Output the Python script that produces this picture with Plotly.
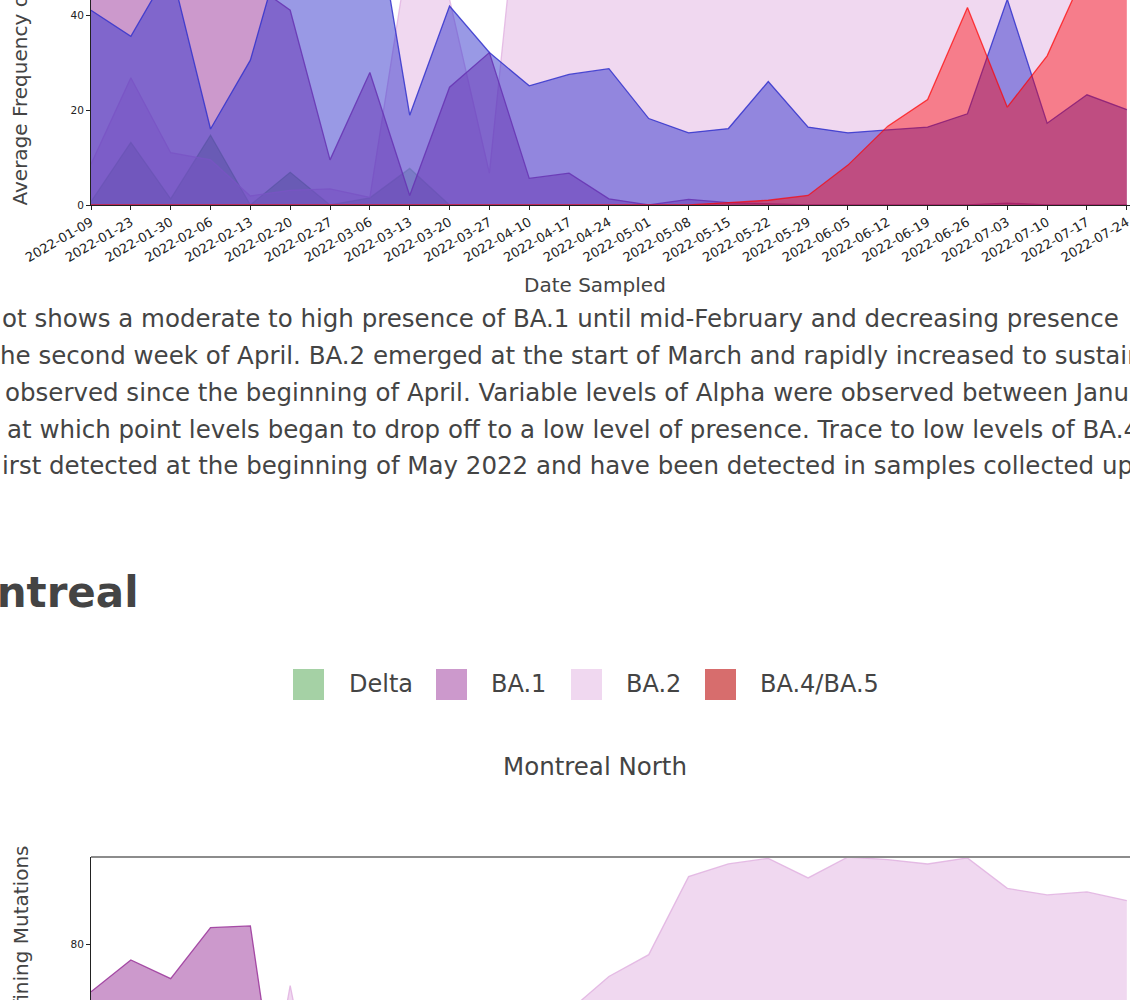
import plotly.graph_objects as go

# ---------------- data ----------------
dates = ["2022-01-09", "2022-01-23", "2022-01-30", "2022-02-06", "2022-02-13",
         "2022-02-20", "2022-02-27", "2022-03-06", "2022-03-13", "2022-03-20",
         "2022-03-27", "2022-04-10", "2022-04-17", "2022-04-24", "2022-05-01",
         "2022-05-08", "2022-05-15", "2022-05-22", "2022-05-29", "2022-06-05",
         "2022-06-12", "2022-06-19", "2022-06-26", "2022-07-03", "2022-07-10",
         "2022-07-17", "2022-07-24"]

# upper chart (previous site, partly visible)
up_ba2 = [8.6, 26.8, 11.0, 9.5, 1.9, 3.1, 3.4, 1.6, 55.0, 43.3, 6.7, 88.0, 90.0,
          92.0, 93.0, 94.0, 93.0, 92.0, 90.0, 88.0, 85.0, 80.0, 70.0, 65.0, 62.0,
          60.0, 58.0]
up_ba1 = [62.0, 68.0, 66.0, 70.0, 47.0, 41.0, 9.5, 27.9, 2.0, 24.8, 32.1, 5.6, 6.7,
          1.3, 0.0, 1.2, 0.5, 0.2, 0.0, 0.0, 0.0, 0.0, 0.0, 0.4, 0.0, 0.0, 0.0]
up_delta = [0.7, 13.2, 1.3, 14.7, 0.0, 6.9, 0.0, 1.5, 7.7, 0.0, 0.0, 0.0, 0.0, 0.0,
            0.0, 0.0, 0.0, 0.0, 0.0, 0.0, 0.0, 0.0, 0.0, 0.0, 0.0, 0.0, 0.0]
up_alpha = [41.0, 35.5, 50.0, 16.0, 30.5, 60.0, 65.0, 69.0, 18.9, 41.9, 32.1, 25.1,
            27.5, 28.7, 18.2, 15.2, 16.1, 26.0, 16.4, 15.2, 15.8, 16.4, 19.2, 43.3,
            17.2, 23.2, 20.1]
up_ba45 = [0.0, 0.0, 0.0, 0.0, 0.0, 0.0, 0.0, 0.0, 0.0, 0.0, 0.0, 0.0, 0.0, 0.0,
           0.0, 0.0, 0.5, 1.0, 2.0, 8.4, 16.6, 22.2, 41.6, 20.6, 31.4, 50.0, 55.0]

# Montreal North
mn_delta = [9.0, 7.0, 5.0, 3.0, 2.0, 1.0, 1.0, 0.5, 0.0, 0.0, 0.0, 0.0, 0.0, 0.0,
            0.0, 0.0, 0.0, 0.0, 0.0, 0.0, 0.0, 0.0, 0.0, 0.0, 0.0, 0.0, 0.0]
mn_ba1 = [69.1, 76.4, 72.1, 83.8, 84.2, 22.0, 50.0, 45.0, 35.0, 30.0, 25.0, 15.0,
          12.0, 9.0, 6.0, 3.0, 2.0, 1.0, 1.0, 0.5, 0.5, 0.0, 0.0, 0.0, 0.0, 0.0, 0.0]
mn_ba2 = [0.0, 0.0, 0.0, 0.0, 20.0, 70.5, 25.0, 30.0, 40.0, 45.0, 50.0, 58.0, 64.7,
          72.6, 77.6, 95.5, 98.4, 99.7, 95.2, 100.0, 99.4, 98.4, 99.8, 92.8, 91.3,
          92.0, 90.0]
mn_ba45 = [0.0, 0.0, 0.0, 0.0, 0.0, 0.0, 0.0, 0.0, 0.0, 0.0, 0.0, 0.0, 0.0, 0.0,
           0.0, 0.0, 0.0, 0.5, 1.0, 1.5, 2.0, 3.0, 4.0, 5.0, 6.0, 7.0, 8.0]

legend_names = ["Delta", "BA.1", "BA.2", "BA.4/BA.5"]
legend_colors = ["#a5d1a5", "#cc99cc", "#f0d8f0", "#d76d6d"]

paragraph_lines = [
    "ot shows a moderate to high presence of BA.1 until mid-February and decreasing presence",
    "he second week of April. BA.2 emerged at the start of March and rapidly increased to sustained high levels",
    "observed since the beginning of April. Variable levels of Alpha were observed between January and July,",
    "at which point levels began to drop off to a low level of presence. Trace to low levels of BA.4/BA.5 were",
    "irst detected at the beginning of May 2022 and have been detected in samples collected up to the end of July.",
]

# ---------------- figure ----------------
W, H = 1130, 1000
FONT = "DejaVu Sans"
TXT = "#444444"


def px(x):
    return x / W


def py(y):
    return 1 - y / H


fig = go.Figure()


def area(x, y, color, alpha, xa, ya, name, line_alpha=None):
    r, g, b = color
    la = alpha if line_alpha is None else line_alpha
    fig.add_trace(go.Scatter(
        x=x, y=y, mode="lines", name=name, fill="tozeroy",
        fillcolor=f"rgba({r},{g},{b},{alpha})",
        line=dict(color=f"rgba({r},{g},{b},{la})", width=1.3),
        xaxis=xa, yaxis=ya, showlegend=False, hoverinfo="x+y+name"))


# upper chart
area(dates, up_delta, (76, 166, 76), 0.5, "x", "y", "Delta", 0.6)
area(dates, up_ba2, (225, 177, 225), 0.5, "x", "y", "BA.2", 0.8)
area(dates, up_ba1, (153, 51, 153), 0.5, "x", "y", "BA.1", 0.85)
area(dates, up_alpha, (51, 51, 204), 0.5, "x", "y", "Alpha", 0.85)
area(dates, up_ba45, (255, 0, 0), 0.42, "x", "y", "BA.4/BA.5", 0.7)

# Montreal North chart
area(dates, mn_delta, (76, 166, 76), 0.5, "x2", "y2", "Delta")
area(dates, mn_ba1, (153, 51, 153), 0.5, "x2", "y2", "BA.1", 0.85)
area(dates, mn_ba2, (225, 177, 225), 0.5, "x2", "y2", "BA.2", 0.85)
area(dates, mn_ba45, (175, 20, 20), 0.6, "x2", "y2", "BA.4/BA.5")

axis_common = dict(showgrid=False, zeroline=False, showline=True, linecolor="#222222",
                   linewidth=1, ticks="outside", ticklen=4, tickcolor="#222222",
                   tickwidth=1, automargin=False)

fig.update_layout(
    template="none",
    width=W, height=H,
    margin=dict(l=0, r=0, t=0, b=0, pad=0, autoexpand=False),
    paper_bgcolor="white", plot_bgcolor="white",
    font=dict(family=FONT, color=TXT),
    showlegend=False,
    xaxis=dict(domain=[px(91), 1.0], type="category", categoryorder="array",
               categoryarray=dates, range=[0, 26.08], tickangle=-30,
               tickfont=dict(family=FONT, size=13, color="#222222"),
               anchor="y", **axis_common),
    yaxis=dict(domain=[py(205), 1.0], range=[0, 43.16], tickvals=[0, 20, 40],
               tickfont=dict(family=FONT, size=10.5, color="#222222"),
               anchor="x", **axis_common),
    xaxis2=dict(domain=[px(91), 1.0], type="category", categoryorder="array",
                categoryarray=dates, range=[0, 26.08], showticklabels=False,
                showgrid=False, zeroline=False, showline=False, ticks="",
                anchor="y2", automargin=False),
    yaxis2=dict(domain=[0.0, py(857)], range=[67.2, 100.0],
                tickvals=[0, 20, 40, 60, 80],
                tickfont=dict(family=FONT, size=10.5, color="#222222"),
                anchor="x2", **axis_common),
)

# top border of the lower plot
fig.add_shape(type="line", xref="paper", yref="paper", x0=px(91), x1=1.0,
              y0=py(857), y1=py(857), line=dict(color="#8c8c8c", width=2))

ann = []
# axis titles
ann.append(dict(text="Date Sampled", x=px(595), y=py(285), xanchor="center",
                yanchor="middle", font=dict(size=20, color=TXT)))
ann.append(dict(text="Average Frequency of Lineage-Defining Mutations", textangle=-90,
                x=px(20), y=py(208), xanchor="center", yanchor="bottom",
                font=dict(size=20, color=TXT)))
ann.append(dict(text="Average Frequency of Lineage-Defining Mutations", textangle=-90,
                x=px(20), y=py(844), xanchor="center", yanchor="top",
                font=dict(size=20, color=TXT)))

# paragraph
line_x = [0, -2, 3, 5, 0]
line_y = [318, 355, 392, 429, 466]
for t, lx, ly in zip(paragraph_lines, line_x, line_y):
    ann.append(dict(text=t, x=px(lx), y=py(ly), xanchor="left", yanchor="middle",
                    font=dict(size=24.5, color=TXT)))

# heading
ann.append(dict(text="<b>Montreal</b>", x=px(141), y=py(592), xanchor="right",
                yanchor="middle", font=dict(size=42, color=TXT)))

# legend (drawn)
sw_x = [293, 436, 571, 705]
txt_x = [347, 489, 624, 758]
for nm, col, sx, tx in zip(legend_names, legend_colors, sw_x, txt_x):
    fig.add_shape(type="rect", xref="paper", yref="paper", x0=px(sx), x1=px(sx + 31),
                  y0=py(700), y1=py(669), fillcolor=col, line=dict(width=0))
    ann.append(dict(text=nm, x=px(tx), y=py(684), xanchor="left", yanchor="middle",
                    font=dict(size=24, color=TXT)))

ann.append(dict(text="Montreal North", x=px(595), y=py(766), xanchor="center",
                yanchor="middle", font=dict(size=24.5, color=TXT)))

for a in ann:
    a.update(xref="paper", yref="paper", showarrow=False)
fig.update_layout(annotations=ann)

fig.write_html("out.html",
               config={"displayModeBar": False},
               post_script="document.body.style.margin='0';"
                           "document.body.style.overflow='hidden';")
